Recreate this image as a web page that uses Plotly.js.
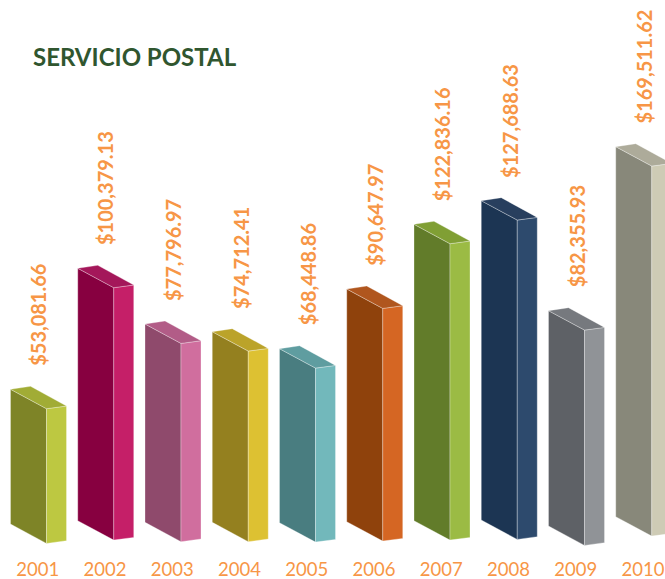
<!DOCTYPE html>
<html>
<head>
<meta charset="utf-8">
<script src="https://cdn.plot.ly/plotly-3.0.1.min.js"></script>
<style>html,body{margin:0;padding:0;background:#fff;overflow:hidden}</style>
</head>
<body>
<div id="chart" style="width:665px;height:579px"></div>
<script>
// Data
var categories = ['2001','2002','2003','2004','2005','2006','2007','2008','2009','2010'];
// Printed values of the data labels
var labelValues = [53081.66,100379.13,77796.97,74712.41,68448.86,90647.97,122836.16,127688.63,82355.93,169511.62];
// Height each bar actually has in the picture (the source art is not exactly to scale)
var barHeights = [53030,99370,78070,75040,68500,91610,116690,125710,84760,145670];
// Where each bar's foot sits relative to zero (the source bars do not share a perfect baseline)
var barBases = [-790,510,-120,-120,-280,120,510,790,-1570,2090];
var frontColors = ['#7E8427','#870040','#8F4A6C','#94801F','#497D80','#8F420C','#627C2A','#1C3553','#5E6166','#88887A'];
var sideColors  = ['#BDC841','#C51F68','#D06E9E','#DDC132','#72B8BB','#D56623','#9BBB44','#2D4A6D','#909397','#CECBB5'];
var topColors   = ['#A1AC35','#A4175A','#B25C87','#BBA32A','#5F9DA0','#B0561E','#809F34','#283F5E','#76797E','#ADAB9A'];

// Scale and oblique projection
var W = 665, H = 579, bottomMargin = 23;
var pxPerCat = 67.25, firstCenterPx = 38.5, pxPerUnit = 0.00254, zeroPx = 522;
var plotH = H - bottomMargin;
var xRange = [(0 - firstCenterPx) / pxPerCat, (W - firstCenterPx) / pxPerCat];
var yRange = [(zeroPx - plotH) / pxPerUnit, zeroPx / pxPerUnit];
function dx(px){ return px / pxPerCat; }
function dy(px){ return px / pxPerUnit; }
var halfW = dx(28), frontW = dx(36), depthW = dx(20);
var frontDrop = dy(19.4), sideRise = dy(2.7), backRise = dy(3);
var edge = {color:'rgba(255,255,255,0.38)', width:0.8};

var traces = [], annotations = [];
function face(xs, ys, color, name){
  traces.push({type:'scatter', mode:'lines', x:xs, y:ys, fill:'toself', fillcolor:color,
    line:edge, hoverinfo:'text', text:name, showlegend:false});
}
categories.forEach(function(cat, i){
  var L = i - halfW, M = L + frontW, R = M + depthW;
  var lo = barBases[i], hi = barBases[i] + barHeights[i];
  var txt = cat + ': $' + labelValues[i].toLocaleString('en-US',{minimumFractionDigits:2,maximumFractionDigits:2});
  face([L,M,M,L,L], [hi,hi-frontDrop,lo-frontDrop,lo,hi], frontColors[i], txt);
  face([M,R,R,M,M], [hi-frontDrop,hi-frontDrop+sideRise,lo-frontDrop+sideRise,lo-frontDrop,hi-frontDrop], sideColors[i], txt);
  face([L,M,R,L+depthW,L], [hi,hi-frontDrop,hi-frontDrop+sideRise,hi+backRise,hi], topColors[i], txt);
  annotations.push({
    x:i, y:hi + backRise + dy(18), xref:'x', yref:'y', xanchor:'center', yanchor:'bottom',
    showarrow:false, textangle:-90,
    text:'<b>$' + labelValues[i].toLocaleString('en-US',{minimumFractionDigits:2,maximumFractionDigits:2}) + '</b>',
    font:{family:'Lato, sans-serif', size:20, color:'#F79646'}
  });
});

var layout = {
  width:W, height:H, margin:{l:0,r:0,t:0,b:bottomMargin,pad:0},
  paper_bgcolor:'#fff', plot_bgcolor:'#fff', showlegend:false,
  title:{text:'<b>SERVICIO POSTAL</b>', x:33/W, xanchor:'left', xref:'container', y:1-58/H, yanchor:'middle', yref:'container',
    font:{family:'Lato, sans-serif', size:24, color:'#30562F'}},
  xaxis:{range:xRange, tickmode:'array', tickvals:categories.map(function(c,i){return i - dx(0.8);}), ticktext:categories,
    showgrid:false, zeroline:false, showline:false, ticks:'', fixedrange:true,
    tickfont:{family:'Lato, sans-serif', size:18.5, color:'#F79646'}},
  yaxis:{range:yRange, visible:false, showgrid:false, zeroline:false, fixedrange:true},
  annotations:annotations
};
Plotly.newPlot('chart', traces, layout, {displayModeBar:false});
</script>
</body>
</html>
